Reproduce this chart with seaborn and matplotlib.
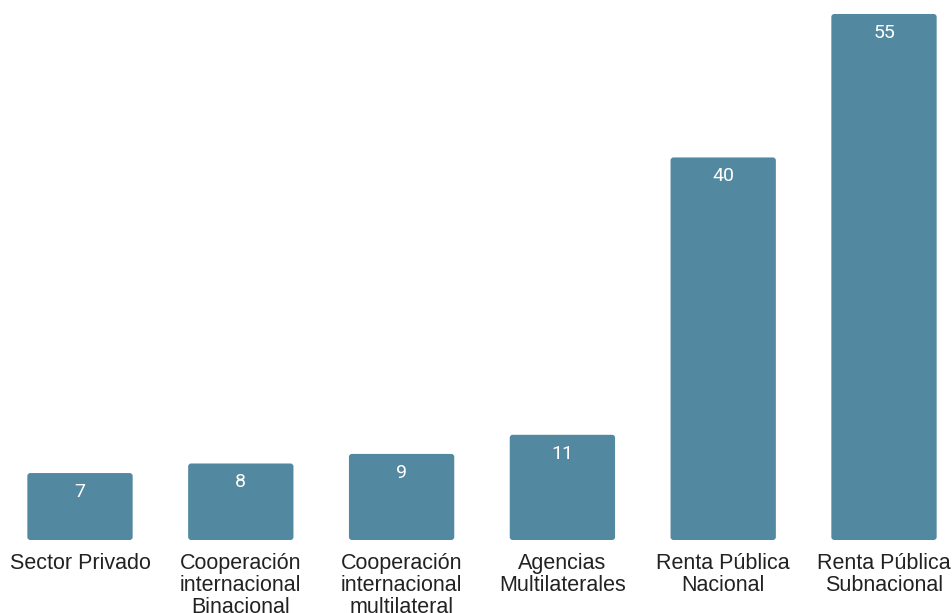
import matplotlib
matplotlib.use("Agg")
import matplotlib.pyplot as plt
import seaborn as sns
import pandas as pd
from matplotlib.patches import FancyBboxPatch

categories = ["Sector Privado", "Cooperación\ninternacional\nBinacional",
              "Cooperación\ninternacional\nmultilateral", "Agencias\nMultilaterales",
              "Renta Pública\nNacional", "Renta Pública\nSubnacional"]
values = [7, 8, 9, 11, 40, 55]

sns.set_theme(style="white")
plt.rcParams['font.family'] = ['Roboto', 'DejaVu Sans']

W, H = 953, 613
fig = plt.figure(figsize=(W / 100, H / 100), dpi=100)
ax = fig.add_axes([0, 73 / H, 1, 540 / H])

df = pd.DataFrame({"cat": categories, "val": values})
color = "#5289A0"
sns.barplot(data=df, x="cat", y="val", color=color, width=0.655, ax=ax,
            saturation=1, errorbar=None)

x0 = (0 - 80) / 160.8
x1 = (W - 80) / 160.8
ax.set_xlim(x0, x1)
ax.set_ylim(0, 540 / 9.564)

# rounded top corners
px_x = (x1 - x0) / W
px_y = (540 / 9.564) / 540
for p in list(ax.patches):
    x, y, w, h = p.get_x(), p.get_y(), p.get_width(), p.get_height()
    p.set_visible(False)
    fb = FancyBboxPatch((x, y), w, h,
                        boxstyle=f"round,pad=0,rounding_size={3 * px_x}",
                        mutation_aspect=px_y / px_x,
                        facecolor=color, edgecolor="none")
    ax.add_patch(fb)
    ax.text(x + w / 2, y + h - 10 * px_y, f"{int(h)}", ha="center", va="top",
            color="white", fontsize=14, fontstretch="normal",
            family=['Roboto', 'DejaVu Sans'])

for s in ax.spines.values():
    s.set_visible(False)
ax.set_yticks([])
ax.set_xlabel("")
ax.set_ylabel("")
ax.tick_params(axis="x", length=0, pad=9.5, labelsize=15.5, labelcolor="#222222")
for lbl in ax.get_xticklabels():
    lbl.set_linespacing(1.05)
    lbl.set_family(['Liberation Sans', 'DejaVu Sans'])

fig.savefig("out.png", dpi=100)
